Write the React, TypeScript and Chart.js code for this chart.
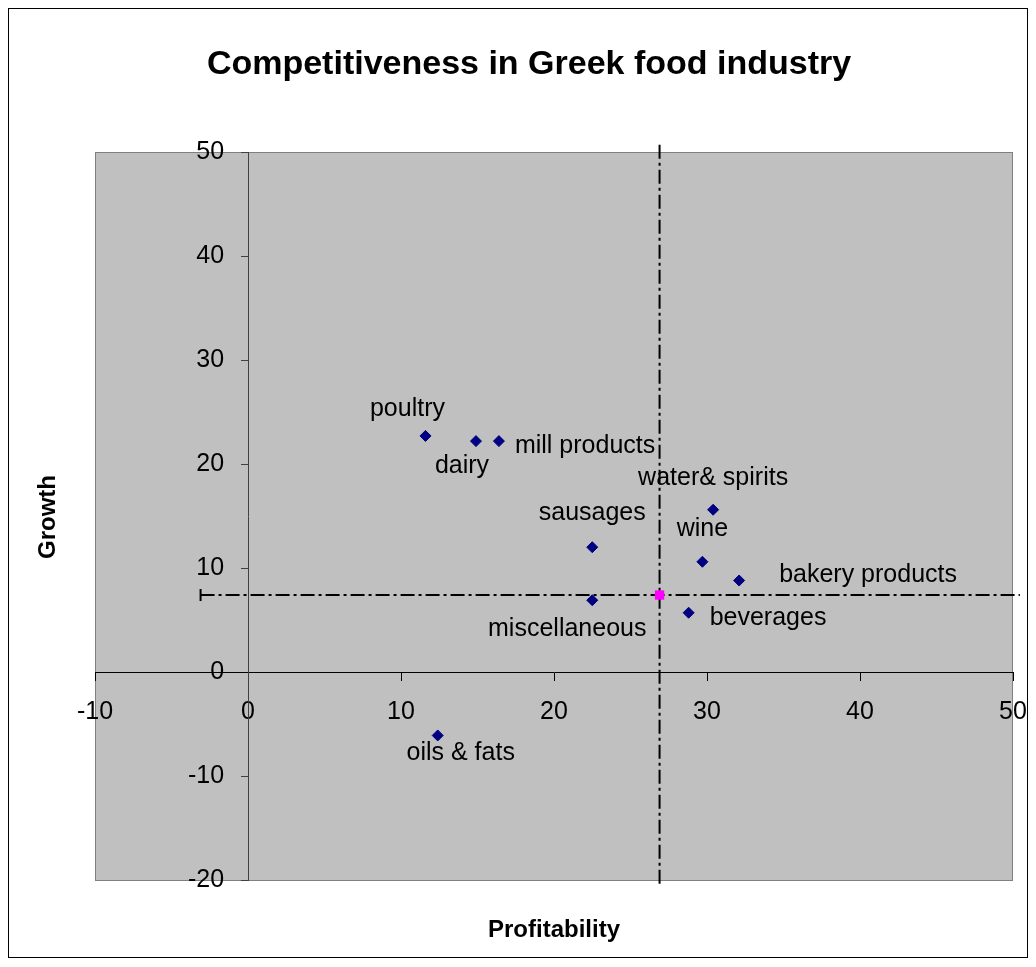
import React, { useEffect, useRef } from "react";
import { Chart, registerables } from "chart.js";

Chart.register(...registerables);

// ---- data ----
const TITLE = "Competitiveness in Greek food industry";
const X_TITLE = "Profitability";
const Y_TITLE = "Growth";

const SECTORS = [
  "poultry",
  "dairy",
  "mill products",
  "sausages",
  "miscellaneous",
  "water& spirits",
  "wine",
  "bakery products",
  "beverages",
  "oils & fats",
];
const PROFITABILITY = [11.6, 14.9, 16.4, 22.5, 22.5, 30.4, 29.7, 32.1, 28.8, 12.4];
const GROWTH = [22.7, 22.2, 22.2, 12.0, 6.9, 15.6, 10.6, 8.8, 5.7, -6.1];

const AVERAGE_PROFITABILITY = [26.9];
const AVERAGE_GROWTH = [7.4];

// visible extent of the dash-dot cross lines (error bars through the average)
const H_LINE_X = [-3.1, 50.45];
const V_LINE_Y = [50.7, -20.7];

const X_TICKS = [-10, 0, 10, 20, 30, 40, 50];
const Y_TICKS = [-20, -10, 0, 10, 20, 30, 40, 50];

// ---- styles ----
const FONT = "'Liberation Sans', Arial, Helvetica, sans-serif";
const LABEL_PLACEMENT: { dx: number; dy: number; align: CanvasTextAlign }[] = [
  { dx: -18, dy: -20, align: "center" },
  { dx: -14, dy: 32, align: "center" },
  { dx: 16, dy: 12, align: "left" },
  { dx: 0, dy: -27, align: "center" },
  { dx: -25, dy: 36, align: "center" },
  { dx: 0, dy: -25, align: "center" },
  { dx: 0, dy: -26, align: "center" },
  { dx: 40, dy: 2, align: "left" },
  { dx: 21, dy: 12, align: "left" },
  { dx: 23, dy: 25, align: "center" },
];
// gap between the y tick labels and the axis line (labels are right aligned on the axis)
const Y_LABEL_GAP = "\u2007\u2009\u2009";

const backgroundPlugin = {
  id: "excelBackground",
  beforeDraw(chart: any) {
    const { ctx, chartArea: a, width, height } = chart;
    ctx.save();
    ctx.fillStyle = "#ffffff";
    ctx.fillRect(0, 0, width, height);
    ctx.strokeStyle = "#000000";
    ctx.lineWidth = 1;
    ctx.strokeRect(0.5, 0.5, width - 1, height - 1);
    ctx.fillStyle = "#C0C0C0";
    ctx.fillRect(a.left, a.top, a.right - a.left, a.bottom - a.top);
    ctx.strokeStyle = "#808080";
    ctx.strokeRect(a.left + 0.5, a.top + 0.5, a.right - a.left - 1, a.bottom - a.top);
    ctx.restore();
  },
};

const textPlugin = {
  id: "excelText",
  afterDatasetsDraw(chart: any) {
    const { ctx } = chart;
    const meta = chart.getDatasetMeta(0);
    ctx.save();
    ctx.fillStyle = "#000000";
    ctx.font = `25px ${FONT}`;
    ctx.textBaseline = "alphabetic";
    meta.data.forEach((pt: any, i: number) => {
      const p = LABEL_PLACEMENT[i];
      ctx.textAlign = p.align;
      ctx.fillText(SECTORS[i], pt.x + p.dx, pt.y + p.dy);
    });
    ctx.restore();
  },
  afterDraw(chart: any) {
    const { ctx, width } = chart;
    ctx.save();
    ctx.fillStyle = "#000000";
    ctx.textAlign = "center";
    ctx.textBaseline = "alphabetic";
    ctx.font = `bold 34px ${FONT}`;
    ctx.fillText(TITLE, width / 2 + 11, 66);
    ctx.font = `bold 24px ${FONT}`;
    ctx.textBaseline = "middle";
    ctx.fillText(X_TITLE, 546, 922);
    ctx.translate(40, 509);
    ctx.rotate(-Math.PI / 2);
    ctx.fillText(Y_TITLE, 0, 0);
    ctx.restore();
  },
};

export default function App() {
  const ref = useRef<HTMLCanvasElement | null>(null);

  useEffect(() => {
    if (!ref.current) return;
    const points = PROFITABILITY.map((x, i) => ({ x, y: GROWTH[i] }));
    const avg = AVERAGE_PROFITABILITY.map((x, i) => ({ x, y: AVERAGE_GROWTH[i] }));
    const hLine = H_LINE_X.map((x) => ({ x, y: AVERAGE_GROWTH[0] }));
    const vLine = V_LINE_Y.map((y) => ({ x: AVERAGE_PROFITABILITY[0], y }));

    const chart = new Chart(ref.current, {
      type: "scatter",
      data: {
        datasets: [
          {
            label: "Sectors",
            data: points,
            pointStyle: "rectRot",
            pointRadius: 5.5,
            pointHoverRadius: 5.5,
            backgroundColor: "#000080",
            borderColor: "#000080",
            borderWidth: 1,
            order: 0,
          },
          {
            label: "Average",
            data: avg,
            pointStyle: "rect",
            pointRadius: 6.6,
            backgroundColor: "#FF00FF",
            borderColor: "#FF00FF",
            borderWidth: 0,
            order: 1,
          },
          {
            label: "Average growth",
            data: hLine,
            showLine: true,
            borderColor: "#000000",
            borderWidth: 2,
            borderDash: [14, 4, 3, 4],
            pointStyle: "line",
            rotation: 90,
            pointRadius: (c: any) => (c.dataIndex === 0 ? 6 : 0),
            pointBorderWidth: 2,
            pointBorderColor: "#000000",
            clip: false,
            order: 2,
          } as any,
          {
            label: "Average profitability",
            data: vLine,
            showLine: true,
            borderColor: "#000000",
            borderWidth: 2,
            borderDash: [14, 4, 3, 4],
            pointRadius: 0,
            clip: false,
            order: 2,
          } as any,
        ],
      },
      options: {
        responsive: false,
        animation: false,
        events: [],
        layout: { padding: { top: 144, left: 87, right: 15, bottom: 78 } },
        plugins: {
          legend: { display: false },
          title: { display: false },
          tooltip: { enabled: false },
        },
        scales: {
          x: {
            type: "linear",
            position: { y: 0 } as any,
            min: X_TICKS[0],
            max: X_TICKS[X_TICKS.length - 1],
            afterBuildTicks: (s: any) => {
              s.ticks = X_TICKS.map((v) => ({ value: v }));
            },
            afterFit: (s: any) => {
              s.paddingLeft = 10;
              s.paddingRight = 10;
            },
            ticks: {
              font: { family: FONT, size: 25 },
              color: "#000000",
              padding: 17,
              maxRotation: 0,
              autoSkip: false,
            },
            grid: {
              drawOnChartArea: false,
              drawTicks: true,
              tickLength: 8,
              tickColor: "#000000",
              tickWidth: 1,
            },
            border: { display: true, color: "#000000", width: 1 },
          },
          y: {
            type: "linear",
            position: { x: 0 } as any,
            min: Y_TICKS[0],
            max: Y_TICKS[Y_TICKS.length - 1],
            afterBuildTicks: (s: any) => {
              s.ticks = Y_TICKS.map((v) => ({ value: v }));
            },
            afterFit: (s: any) => {
              s.paddingTop = 10;
              s.paddingBottom = 10;
            },
            ticks: {
              font: { family: FONT, size: 25 },
              color: "#000000",
              padding: 16,
              autoSkip: false,
              callback: (v: any) => `${v}${Y_LABEL_GAP}`,
            },
            grid: {
              drawOnChartArea: false,
              drawTicks: true,
              tickLength: 7,
              tickColor: "#404040",
              tickWidth: 1,
            },
            border: { display: true, color: "#404040", width: 1 },
          },
        },
      },
      plugins: [backgroundPlugin, textPlugin],
    });
    return () => chart.destroy();
  }, []);

  return (
    <canvas
      ref={ref}
      width={1020}
      height={950}
      style={{ display: "block", width: 1020, height: 950 }}
    />
  );
}
